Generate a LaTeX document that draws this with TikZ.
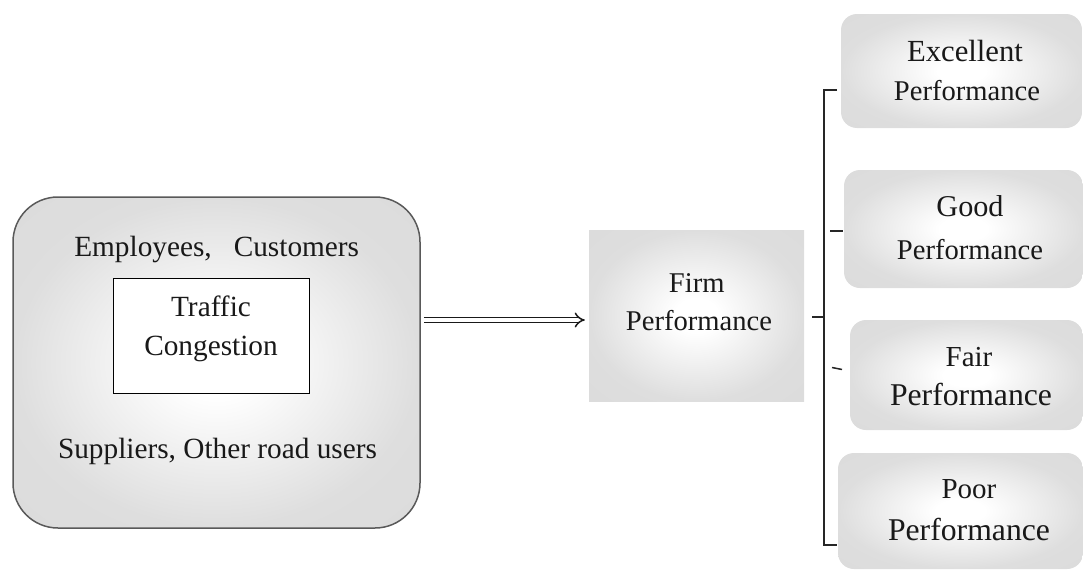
\documentclass[tikz,border=0pt]{standalone}
\usepackage{fontspec}
\setmainfont{Liberation Serif}
\usetikzlibrary{arrows.meta,calc}
\pgfdeclareradialshading{softglow}{\pgfpointorigin}{color(0bp)=(white); color(5bp)=(white); color(25bp)=(black!13); color(50bp)=(black!15)}
\begin{document}
\begin{tikzpicture}[x=1pt,y=-1pt,
  shadebox/.style={shading=softglow, inner sep=0pt},
  lab/.style={font=\fontsize{#1}{#1}\selectfont, anchor=base, inner sep=0pt, text=black!90},
  brack/.style={line width=1.6pt, black!85}
]
\useasboundingbox (0,0) rectangle (1083,570);
% left context box
\node[shadebox, draw=black!65, line width=1.5pt, rounded corners=45pt,
      minimum width=407pt, minimum height=331pt] (ctx) at (216.5,362.5) {};
\node[draw=black, line width=0.8pt, fill=white, inner sep=0pt,
      minimum width=196pt, minimum height=115pt] (tc) at (211,335.5) {};
\node[lab=29.3] (emp) at (216.7,256.7) {Employees,\ \ \ Customers};
\node[lab=29.3] (sup) at (217.5,458) {Suppliers, Other road users};
\node[lab=29.3] (tr) at (211,316.7) {Traffic};
\node[lab=29.3] (cg) at (211,355) {Congestion};
% firm performance
\node[shadebox, minimum width=215pt, minimum height=171pt] (firm) at (696.5,315.5) {};
\node[lab=28.6] (firm1) at (696.7,292.7) {Firm};
\node[lab=28.6] (firm2) at (699,330) {Performance};
% arrow
\draw[double=white, double distance=3.6pt, line width=1.5pt, -{Implies}, black!90]
  ($(ctx.east |- firm.west)+(3,4.5)$) -- ($(firm.west)+(-4,4.5)$);
% outcome boxes
\node[shadebox, rounded corners=16pt, minimum width=241pt, minimum height=114pt] (exc) at (961.5,71) {};
\node[lab=30.7] (exc1) at (965,61.7) {Excellent};
\node[lab=28.6] (exc2) at (967,100) {Performance};
\node[shadebox, rounded corners=16pt, minimum width=239pt, minimum height=118pt] (good) at (963.5,229) {};
\node[lab=30.2] (good1) at (970,216.7) {Good};
\node[lab=28.6] (good2) at (970,259.5) {Performance};
\node[shadebox, rounded corners=16pt, minimum width=233pt, minimum height=110pt] (fair) at (966.5,375) {};
\node[lab=29] (fair1) at (969,366.7) {Fair};
\node[lab=31.7] (fair2) at (971,405) {Performance};
\node[shadebox, rounded corners=16pt, minimum width=245pt, minimum height=116pt] (poor) at (960.5,511) {};
\node[lab=29] (poor1) at (969,498.3) {Poor};
\node[lab=31.7] (poor2) at (969,540) {Performance};
% bracket
\coordinate (brtop) at (837,90);
\coordinate (brbot) at (837,545);
\coordinate (brmid) at (812,317);
\draw[brack] (brtop) -- (824,90) -- (824,545) -- (brbot);
\draw[line width=2.6pt, black!85] (brmid) -- (824,317);
\draw[line width=1.5pt, black!85] (830,231) -- (843,231);
\draw[line width=1.5pt, black!85] (832,367.5) -- (842,369.5);
\end{tikzpicture}
\end{document}
